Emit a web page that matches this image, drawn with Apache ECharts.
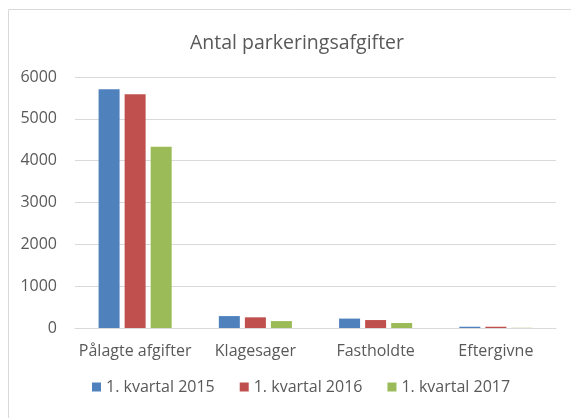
<!DOCTYPE html>
<html>
<head>
<meta charset="utf-8">
<script src="https://cdn.jsdelivr.net/npm/echarts@6/dist/echarts.min.js"></script>
<style>
  html, body { margin: 0; padding: 0; background: #fff; }
  #chart { width: 571px; height: 418px; }
</style>
</head>
<body>
<div id="chart"></div>
<script>
var categories = ["Pålagte afgifter", "Klagesager", "Fastholdte", "Eftergivne"];
var seriesNames = ["1. kvartal 2015", "1. kvartal 2016", "1. kvartal 2017"];
var q2015 = [5710, 285, 225, 30];
var q2016 = [5590, 255, 190, 30];
var q2017 = [4335, 165, 120, 5];
var colors = ["#4f81bd", "#c0504d", "#9bbb59"];

var chart = echarts.init(document.getElementById("chart"));
var font = "'Open Sans', sans-serif";

function bar(name, data) {
  return {
    name: name,
    type: "bar",
    data: data,
    barWidth: 21,
    barGap: "24%"
  };
}

var option = {
  color: colors,
  textStyle: { fontFamily: font },
  graphic: [
    {
      type: "rect",
      shape: { x: 8.5, y: 9.5, width: 600, height: 500 },
      style: { fill: null, stroke: "#d9d9d9", lineWidth: 1 },
      silent: true
    }
  ],
  title: {
    text: "Antal parkeringsafgifter",
    left: 292,
    top: 28,
    textAlign: "center",
    textStyle: { fontSize: 19.5, fontWeight: "normal", color: "#595959", fontFamily: font }
  },
  legend: {
    data: seriesNames,
    bottom: 18,
    left: 87,
    itemWidth: 9,
    itemHeight: 9,
    itemGap: 25,
    icon: "rect",
    textStyle: { fontSize: 16, color: "#595959", fontFamily: font }
  },
  grid: {
    left: 75,
    right: 15,
    top: 77,
    bottom: 90,
    containLabel: false
  },
  xAxis: {
    type: "category",
    data: categories,
    axisLine: { lineStyle: { color: "#d9d9d9", width: 1 } },
    axisTick: { show: false },
    axisLabel: { interval: 0, fontSize: 16, color: "#595959", margin: 15, fontFamily: font }
  },
  yAxis: {
    type: "value",
    min: 0,
    max: 6000,
    interval: 1000,
    axisLine: { show: false },
    axisTick: { show: false },
    axisLabel: {
      fontSize: 16,
      color: "#595959",
      margin: 18,
      fontFamily: font,
      formatter: function(v) { return String(v); }
    },
    splitLine: { lineStyle: { color: "#d9d9d9", width: 1 } }
  },
  series: [
    bar(seriesNames[0], q2015),
    bar(seriesNames[1], q2016),
    bar(seriesNames[2], q2017)
  ]
};
chart.setOption(option);
</script>
</body>
</html>
